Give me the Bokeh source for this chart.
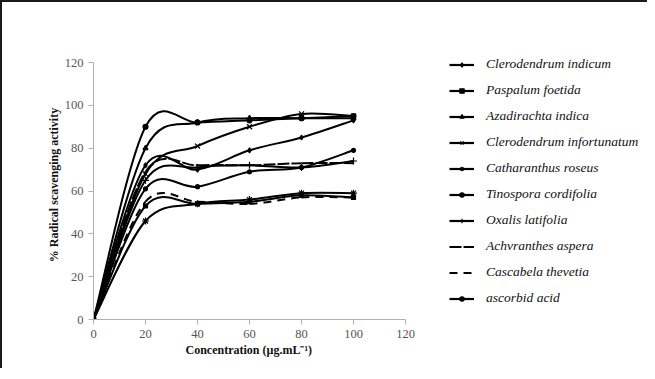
from bokeh.plotting import figure
from bokeh.models import Range1d, FixedTicker, Legend, LegendItem, ColumnDataSource, Title
from bokeh.embed import file_html
from bokeh.resources import INLINE

concentration = [0, 20, 40, 60, 80, 100]

series_names = [
    "Clerodendrum indicum",
    "Paspalum foetida",
    "Azadirachta indica",
    "Clerodendrum infortunatum",
    "Catharanthus roseus",
    "Tinospora cordifolia",
    "Oxalis latifolia",
    "Achvranthes aspera",
    "Cascabela thevetia",
    "ascorbid acid",
]

clerodendrum_indicum = [0, 72, 70, 79, 85, 93]
paspalum_foetida = [0, 53, 54, 55, 58, 57]
azadirachta_indica = [0, 80, 92, 94, 94, 94]
clerodendrum_infortunatum = [0, 68, 81, 90, 96, 95]
catharanthus_roseus = [0, 46, 54, 56, 59, 59]
tinospora_cordifolia = [0, 61, 62, 69, 71, 79]
oxalis_latifolia = [0, 65, 71, 72, 71, 74]
achyranthes_aspera = [0, 69, 72, 72, 73, 73]
cascabela_thevetia = [0, 55, 55, 54, 57, 57]
ascorbic_acid = [0, 90, 92, 93, 94, 95]

series_values = [
    clerodendrum_indicum, paspalum_foetida, azadirachta_indica,
    clerodendrum_infortunatum, catharanthus_roseus, tinospora_cordifolia,
    oxalis_latifolia, achyranthes_aspera, cascabela_thevetia, ascorbic_acid,
]

markers = ["diamond", "square", "triangle", "x", "asterisk", "circle",
           "cross", None, None, "circle"]
marker_sizes = [5, 4, 5, 7, 7, 4, 7, 0, 0, 5]
dashes = ["solid"] * 7 + ["12 2", "8 6", "solid"]

x_ticks = [0, 20, 40, 60, 80, 100, 120]
y_ticks = [0, 20, 40, 60, 80, 100, 120]

SERIF = "Liberation Serif"

# frame: x 0..120 spans 312 px; y 0..120 spans 257 px; extra room for legend
X_MAX = 120 * 551 / 312
Y_MAX = 120 * 269 / 257

p = figure(width=647, height=368, output_backend="svg", toolbar_location=None,
           x_range=Range1d(0, X_MAX), y_range=Range1d(0, Y_MAX),
           min_border_left=91, min_border_right=5, min_border_top=48,
           min_border_bottom=51)
p.styles = {"border-left": "2px solid #1a1a1a", "border-top": "2px solid #1a1a1a"}
p.outline_line_color = None
p.grid.visible = False
p.background_fill_color = "white"
p.border_fill_color = "white"

for ax in (p.xaxis[0], p.yaxis[0]):
    ax.axis_line_color = "#b0b0b0"
    ax.major_tick_line_color = "#b0b0b0"
    ax.major_tick_out = 5
    ax.major_tick_in = 0
    ax.minor_tick_line_color = None
    ax.major_label_text_font = SERIF
    ax.major_label_text_font_size = "12.5px"
    ax.major_label_text_color = "#555555"
    ax.axis_label_text_font = SERIF
    ax.axis_label_text_font_style = "bold"
    ax.axis_label_text_font_size = "12px"
    ax.axis_label_text_color = "#111111"
    ax.bounds = (0, 120)

p.xaxis.ticker = FixedTicker(ticks=x_ticks)
p.yaxis.ticker = FixedTicker(ticks=y_ticks)
p.yaxis.axis_label = "% Radical scavenging activity"
p.yaxis.axis_label_standoff = 1

# x-axis title, centred under the 0..120 part of the axis
xtitle = Title(text="Concentration (µg.mL⁻¹)", align="left", offset=92,
               text_font=SERIF, text_font_style="bold", text_font_size="12px",
               text_color="#111111", standoff=0)
p.add_layout(xtitle, "below")


def smooth_segments(xs, ys):
    n = len(xs)
    d = dict(x0=[], y0=[], x1=[], y1=[], cx0=[], cy0=[], cx1=[], cy1=[])
    for i in range(n - 1):
        a = max(i - 1, 0)
        b = min(i + 2, n - 1)
        d["x0"].append(xs[i]); d["y0"].append(ys[i])
        d["x1"].append(xs[i + 1]); d["y1"].append(ys[i + 1])
        d["cx0"].append(xs[i] + (xs[i + 1] - xs[a]) / 6)
        d["cy0"].append(ys[i] + (ys[i + 1] - ys[a]) / 6)
        d["cx1"].append(xs[i + 1] - (xs[b] - xs[i]) / 6)
        d["cy1"].append(ys[i + 1] - (ys[b] - ys[i]) / 6)
    return ColumnDataSource(d)


nan = float("nan")
items = []
for name, vals, mk, ms, dash in zip(series_names, series_values, markers,
                                    marker_sizes, dashes):
    src = smooth_segments(concentration, vals)
    p.bezier(x0="x0", y0="y0", x1="x1", y1="y1", cx0="cx0", cy0="cy0",
             cx1="cx1", cy1="cy1", source=src, line_color="black",
             line_width=2, line_dash=dash)
    leg_line = p.line(x=[nan], y=[nan], line_color="black", line_width=2.2,
                      line_dash=dash)
    rends = [leg_line]
    if mk is not None:
        sc = p.scatter(x=concentration, y=vals, marker=mk, size=ms,
                       line_color="black", fill_color="black", line_width=1.2)
        rends.append(sc)
    items.append(LegendItem(label=name, renderers=rends))

# legend placed in pixel units relative to the frame's bottom-left corner
legend = Legend(items=items, location=(356, 11), orientation="vertical")
legend.border_line_color = None
legend.background_fill_alpha = 0
legend.padding = 0
legend.margin = 0
legend.spacing = 6
legend.glyph_width = 25
legend.glyph_height = 11
legend.label_height = 20
legend.label_standoff = 12
legend.label_text_font = SERIF
legend.label_text_font_style = "italic"
legend.label_text_font_size = "13.5px"
legend.label_text_color = "#111111"
p.add_layout(legend, "center")

open("out.html", "w").write(file_html(p, INLINE))
